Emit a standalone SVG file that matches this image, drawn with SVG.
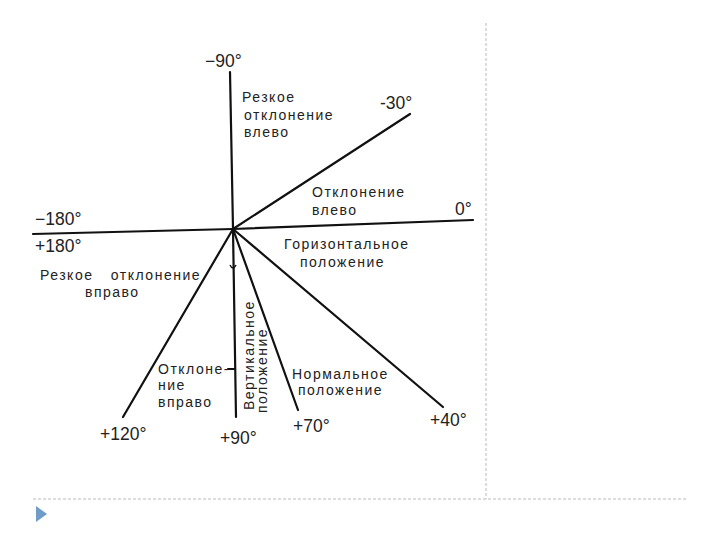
<svg xmlns="http://www.w3.org/2000/svg" width="720" height="540" viewBox="0 0 720 540">
<style>
.t{font-family:"Liberation Sans",Arial,sans-serif;font-size:14px;fill:#222;letter-spacing:1.5px}
.d{font-family:"Liberation Sans",Arial,sans-serif;font-size:17.5px;fill:#222}
.ln{stroke:#111;stroke-width:2.2;fill:none;stroke-linecap:round}
.fr{stroke:#bbb;stroke-width:1;fill:none;stroke-dasharray:3 2}
</style>
<rect width="720" height="540" fill="#fff"/>
<g id="frame">
<line class="fr" x1="486" y1="23" x2="486" y2="499"/>
<line class="fr" x1="33" y1="499" x2="688" y2="499"/>
<polygon points="36,506 47,514 36,522" fill="#6f9cc8"/>
</g>
<g id="connectors">
<line class="ln" x1="230" y1="72" x2="233" y2="229"/>
<line class="ln" x1="233" y1="229" x2="236" y2="417"/>
<line class="ln" x1="33" y1="234" x2="233" y2="229"/>
<line class="ln" x1="233" y1="229" x2="473" y2="220"/>
<line class="ln" x1="233" y1="229" x2="410" y2="114"/>
<line class="ln" x1="233" y1="229" x2="443" y2="407"/>
<line class="ln" x1="233" y1="229" x2="298" y2="410"/>
<line class="ln" x1="233" y1="229" x2="123" y2="417"/>
<line class="ln" x1="228" y1="369" x2="234" y2="369" stroke-width="1.5"/>
<path d="M230,265 q3,6 6,0" stroke="#111" stroke-width="1.5" fill="none"/>
</g>
<g id="n-90"><text class="d" x="205" y="67">−90°</text></g>
<g id="n-sharp-left"><text class="t" x="242" y="102">Резкое</text><text class="t" x="244" y="120">отклонение</text><text class="t" x="244" y="137">влево</text></g>
<g id="n-30"><text class="d" x="380" y="109">-30°</text></g>
<g id="n-left"><text class="t" x="312" y="197">Отклонение</text><text class="t" x="312" y="215">влево</text></g>
<g id="n-0"><text class="d" x="455" y="215">0°</text></g>
<g id="n-180"><text class="d" x="35" y="225">−180°</text><text class="d" x="35" y="252">+180°</text></g>
<g id="n-horiz"><text class="t" x="284" y="249">Горизонтальное</text><text class="t" x="300" y="267">положение</text></g>
<g id="n-sharp-right"><text class="t" x="40" y="280" style="word-spacing:12px">Резкое отклонение</text><text class="t" x="85" y="297">вправо</text></g>
<g id="n-right"><text class="t" x="158" y="374">Отклоне-</text><text class="t" x="158" y="390">ние</text><text class="t" x="158" y="407">вправо</text></g>
<g id="n-vert"><text class="t" transform="translate(254,410) rotate(-90)">Вертикальное</text><text class="t" transform="translate(267,413) rotate(-90)">положение</text></g>
<g id="n-normal"><text class="t" x="292" y="379">Нормальное</text><text class="t" x="298" y="395">положение</text></g>
<g id="n120"><text class="d" x="100" y="440">+120°</text></g>
<g id="n90"><text class="d" x="220" y="444">+90°</text></g>
<g id="n70"><text class="d" x="293" y="432">+70°</text></g>
<g id="n40"><text class="d" x="430" y="426">+40°</text></g>
</svg>
